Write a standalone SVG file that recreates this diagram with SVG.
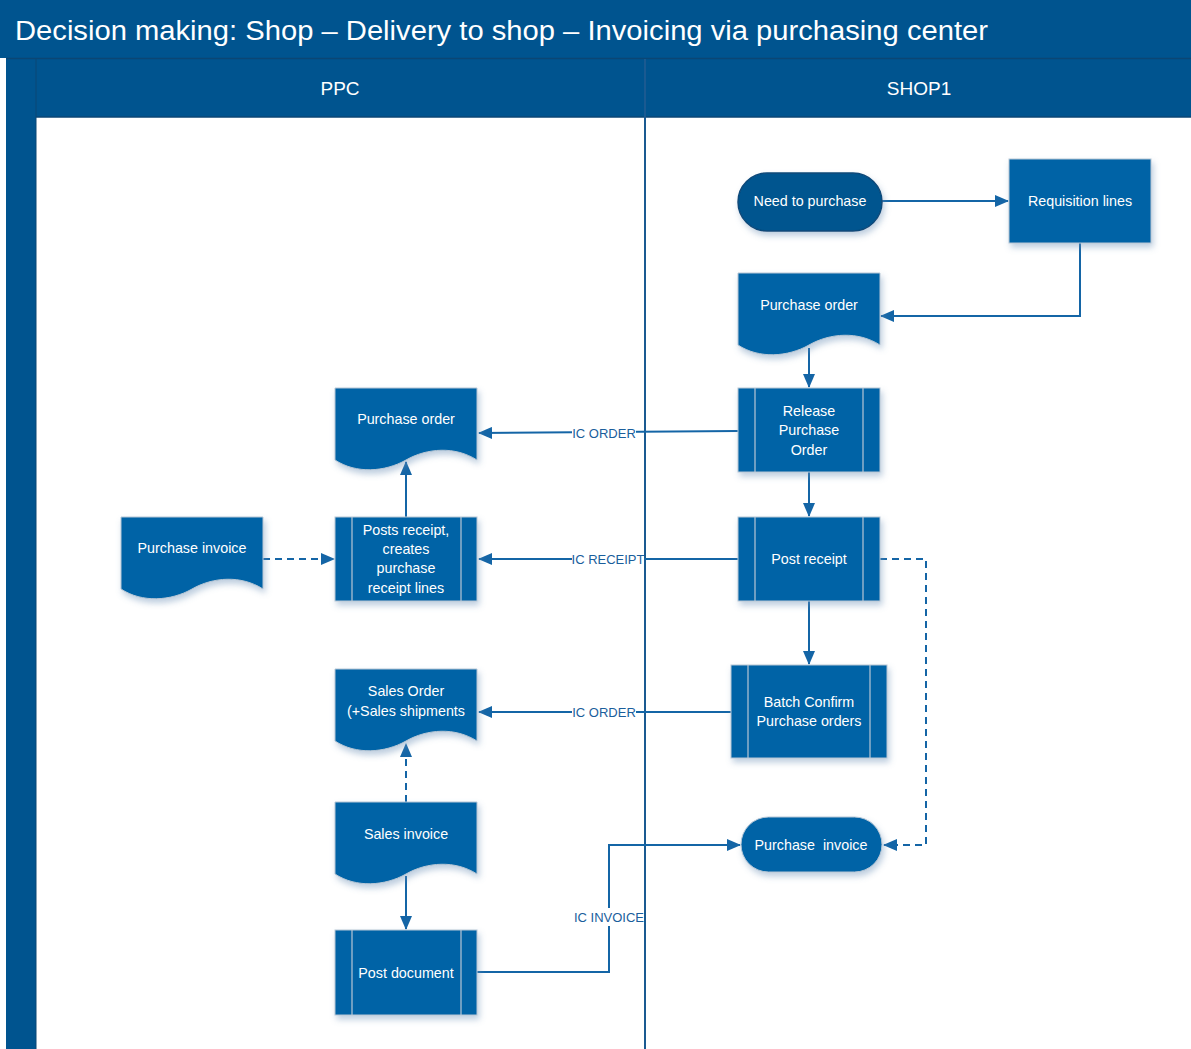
<svg xmlns="http://www.w3.org/2000/svg" width="1191" height="1049" viewBox="0 0 1191 1049">
<style>
.nt{font-family:"Liberation Sans",Arial,sans-serif;font-size:14.3px;fill:#ffffff;text-anchor:middle}
.lbl{font-family:"Liberation Sans",Arial,sans-serif;font-size:13px;fill:#1a5e9c;text-anchor:middle}
.hd{font-family:"Liberation Sans",Arial,sans-serif;font-size:19px;fill:#ffffff;text-anchor:middle}
.shape{fill:#0063a6;stroke:#b7c7d6;stroke-width:1;filter:url(#sh)}
.dark{fill:#00548f;stroke:#0a4a7a;stroke-width:1.5;filter:url(#sh)}
.bar{stroke:#b7c7d6;stroke-width:1.2}
.ln{fill:none;stroke:#1465a6;stroke-width:2;marker-end:url(#ah)}
.dash{stroke-dasharray:7,5}
</style>
<defs>
<filter id="sh" x="-20%" y="-20%" width="150%" height="150%">
<feDropShadow dx="2" dy="4" stdDeviation="3" flood-color="#6f93b8" flood-opacity="0.45"/>
</filter>
<marker id="ah" markerWidth="14" markerHeight="12" refX="13" refY="6" orient="auto" markerUnits="userSpaceOnUse">
<path d="M0,0 L14,6 L0,12 z" fill="#1465a6"/>
</marker>
</defs>
<rect x="0" y="0" width="1191" height="1049" fill="#ffffff"/>
<g id="pool">
<rect x="0" y="0" width="1191" height="58" fill="#00548f"/>
<text x="15" y="40" font-family="'Liberation Sans',Arial,sans-serif" font-size="27" fill="#ffffff" textLength="973" lengthAdjust="spacingAndGlyphs">Decision making: Shop – Delivery to shop – Invoicing via purchasing center</text>
<rect x="6" y="58" width="1185" height="991" fill="#00548f"/>
<line x1="6" y1="58.5" x2="1191" y2="58.5" stroke="#0b4674" stroke-width="1.5"/>
<rect x="36" y="117" width="1155" height="932" fill="#ffffff"/>
<line x1="36" y1="117" x2="1191" y2="117" stroke="#0b4674" stroke-width="1.5"/>
<line x1="36" y1="59" x2="36" y2="1049" stroke="#0b4674" stroke-width="1"/>
<line x1="645" y1="59" x2="645" y2="1049" stroke="#1a5a91" stroke-width="2"/>
<text class="hd" x="340" y="95">PPC</text>
<text class="hd" x="919" y="95">SHOP1</text>
</g>
<g id="connectors">
<path class="ln" d="M882,201 H1008"/>
<path class="ln" d="M1080,243 V316 H881"/>
<path class="ln" d="M809,348 V387"/>
<path class="ln" d="M738,431 L479,433"/>
<path class="ln" d="M809,472 V516"/>
<path class="ln" d="M738,559 H479"/>
<path class="ln" d="M809,601 V664"/>
<path class="ln" d="M731,712 H479"/>
<path class="ln dash" d="M880,559 H926 V845 H884"/>
<path class="ln" d="M406,517 V462"/>
<path class="ln dash" d="M263,559 H334"/>
<path class="ln dash" d="M406,802 V744"/>
<path class="ln" d="M406,876 V929"/>
<path class="ln" d="M477,972 H609 V845 H740"/>
<rect x="572" y="424" width="64" height="18" fill="#ffffff"/>
<text class="lbl" x="604" y="438">IC ORDER</text>
<rect x="572" y="550" width="72" height="18" fill="#ffffff"/>
<text class="lbl" x="608" y="564">IC RECEIPT</text>
<rect x="572" y="703" width="64" height="18" fill="#ffffff"/>
<text class="lbl" x="604" y="717">IC ORDER</text>
<rect x="572" y="908" width="72" height="18" fill="#ffffff"/>
<text class="lbl" x="609" y="922">IC INVOICE</text>
</g>
<g id="need-to-purchase">
<rect class="dark" x="738" y="173" width="144" height="58" rx="29"/>
<text class="nt" x="810" y="206">Need to purchase</text>
</g>
<g id="requisition-lines">
<rect class="shape" x="1009" y="159" width="142" height="84"/>
<text class="nt" x="1080" y="206">Requisition lines</text>
</g>
<g id="shop-purchase-order">
<path class="shape" d="M738,273 h142 v72 c-22,-14 -50,-12 -71,0 c-21,12 -50,14 -71,0 z"/>
<text class="nt" x="809" y="310">Purchase order</text>
</g>
<g id="release-purchase-order">
<rect class="shape" x="738" y="388" width="142" height="84"/>
<line class="bar" x1="755" y1="388" x2="755" y2="472"/>
<line class="bar" x1="863" y1="388" x2="863" y2="472"/>
<text class="nt" x="809" y="416">Release</text>
<text class="nt" x="809" y="435">Purchase</text>
<text class="nt" x="809" y="455">Order</text>
</g>
<g id="post-receipt">
<rect class="shape" x="738" y="517" width="142" height="84"/>
<line class="bar" x1="755" y1="517" x2="755" y2="601"/>
<line class="bar" x1="863" y1="517" x2="863" y2="601"/>
<text class="nt" x="809" y="564">Post receipt</text>
</g>
<g id="batch-confirm">
<rect class="shape" x="731" y="665" width="156" height="93"/>
<line class="bar" x1="748" y1="665" x2="748" y2="758"/>
<line class="bar" x1="870" y1="665" x2="870" y2="758"/>
<text class="nt" x="809" y="707">Batch Confirm</text>
<text class="nt" x="809" y="726">Purchase orders</text>
</g>
<g id="shop-purchase-invoice">
<rect class="shape" x="741" y="817" width="141" height="55" rx="27.5"/>
<text class="nt" x="811" y="850" xml:space="preserve">Purchase  invoice</text>
</g>
<g id="ppc-purchase-order">
<path class="shape" d="M335,388 h142 v72 c-22,-14 -50,-12 -71,0 c-21,12 -50,14 -71,0 z"/>
<text class="nt" x="406" y="424">Purchase order</text>
</g>
<g id="posts-receipt">
<rect class="shape" x="335" y="517" width="142" height="84"/>
<line class="bar" x1="352" y1="517" x2="352" y2="601"/>
<line class="bar" x1="461" y1="517" x2="461" y2="601"/>
<text class="nt" x="406" y="535">Posts receipt,</text>
<text class="nt" x="406" y="554">creates</text>
<text class="nt" x="406" y="573">purchase</text>
<text class="nt" x="406" y="593">receipt lines</text>
</g>
<g id="ppc-purchase-invoice">
<path class="shape" d="M121,517 h142 v72 c-22,-14 -50,-12 -71,0 c-21,12 -50,14 -71,0 z"/>
<text class="nt" x="192" y="553">Purchase invoice</text>
</g>
<g id="sales-order">
<path class="shape" d="M335,669 h142 v72 c-22,-14 -50,-12 -71,0 c-21,12 -50,14 -71,0 z"/>
<text class="nt" x="406" y="696">Sales Order</text>
<text class="nt" x="406" y="716">(+Sales shipments</text>
</g>
<g id="sales-invoice">
<path class="shape" d="M335,802 h142 v72 c-22,-14 -50,-12 -71,0 c-21,12 -50,14 -71,0 z"/>
<text class="nt" x="406" y="839">Sales invoice</text>
</g>
<g id="post-document">
<rect class="shape" x="335" y="930" width="142" height="85"/>
<line class="bar" x1="352" y1="930" x2="352" y2="1015"/>
<line class="bar" x1="461" y1="930" x2="461" y2="1015"/>
<text class="nt" x="406" y="978">Post document</text>
</g>
</svg>
